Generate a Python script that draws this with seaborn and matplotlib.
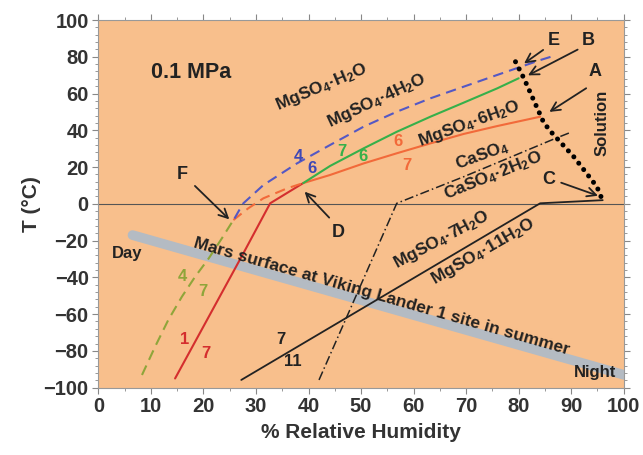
import seaborn as sns
import matplotlib.pyplot as plt
from matplotlib.ticker import MultipleLocator

# phase boundaries (x = % RH, y = T in C)
band_x = [6.5, 100]
band_y = [-17, -93]

red_x = [14.6, 27.6, 32.7, 39.0]
red_y = [-95, -26.9, 0.3, 11.3]

orange_x = [39.0, 44.1, 50.5, 56.8, 63.2, 69.5, 75.9, 84.1]
orange_y = [11.3, 15.7, 22.0, 27.5, 32.9, 38.0, 42.3, 47.4]

orange_dash_x = [25.7, 28.5, 31.4, 35.9, 39.0]
orange_dash_y = [-8.8, -2.5, 3.0, 8.4, 11.3]

green_x = [39.0, 44.1, 50.5, 56.8, 63.2, 69.5, 75.9, 80.0]
green_y = [11.3, 20.6, 30.2, 39.2, 47.4, 55.0, 62.8, 68.3]

blue_x = [25.9, 26.8, 27.6, 31.4, 37.8, 44.1, 50.5, 56.8, 63.2, 69.5, 75.9, 84.1, 86.7]
blue_y = [-8.0, -3.5, 0.3, 10.2, 22.0, 32.0, 42.0, 50.1, 57.4, 63.7, 70.1, 78.2, 80.5]

olive_x = [8.3, 10.8, 13.3, 15.9, 18.4, 21.0, 23.5, 25.7]
olive_y = [-93.1, -77.7, -63.2, -50.5, -39.7, -29.7, -18.8, -8.8]

black_x = [27.2, 84.1, 96.0]
black_y = [-95.8, 0.3, 2.0]

gyp_x = [42.0, 56.8, 69.5, 87.0, 90.0]
gyp_y = [-95.8, 0.3, 14.7, 35.6, 39.0]

sol_x = [79.4, 81.0, 84.8, 86.4, 90.5, 94.9, 96.2]
sol_y = [77.3, 68.3, 44.0, 38.4, 25.6, 9.3, 0.3]

sns.set_style("ticks")
plt.rcParams['font.family'] = ['Liberation Sans', 'DejaVu Sans']
plt.rcParams['font.weight'] = 'bold'
plt.rcParams['mathtext.fontset'] = 'custom'
plt.rcParams['mathtext.rm'] = 'Liberation Sans:bold'
plt.rcParams['mathtext.it'] = 'Liberation Sans:bold'
plt.rcParams['mathtext.bf'] = 'Liberation Sans:bold'
plt.rcParams['mathtext.default'] = 'rm'

fig = plt.figure(figsize=(6.43, 4.55), dpi=100)
ax = fig.add_axes([0.153, 0.148, 0.817, 0.808])
ax.set_facecolor('#F8BF8C')

blue = '#5458C4'
green = '#36B04A'
orange = '#F26A3A'
red = '#D42E2E'
olive = '#8FA53A'
dark = '#222222'

ax.axhline(0, color='#555555', lw=0.8, zorder=1)
sns.lineplot(x=band_x, y=band_y, color='#B4BBC3', lw=7, solid_capstyle='round', ax=ax, zorder=2)
sns.lineplot(x=red_x, y=red_y, color=red, lw=1.5, ax=ax, estimator=None, sort=False)
sns.lineplot(x=orange_x, y=orange_y, color=orange, lw=1.5, ax=ax, estimator=None)
sns.lineplot(x=orange_dash_x, y=orange_dash_y, color=orange, lw=1.5, ls=(0, (5, 3)), ax=ax, estimator=None)
sns.lineplot(x=green_x, y=green_y, color=green, lw=1.5, ax=ax, estimator=None)
sns.lineplot(x=blue_x, y=blue_y, color=blue, lw=1.5, ls=(0, (5, 3)), ax=ax, estimator=None)
sns.lineplot(x=olive_x, y=olive_y, color=olive, lw=1.5, ls=(0, (5, 3)), ax=ax, estimator=None)
sns.lineplot(x=black_x, y=black_y, color=dark, lw=1.3, ax=ax, estimator=None)
sns.lineplot(x=gyp_x, y=gyp_y, color=dark, lw=1.1, ls=(0, (6, 2, 1, 2)), ax=ax, estimator=None)
sns.lineplot(x=sol_x, y=sol_y, color='black', lw=3.6, ls=(0, (0.01, 1.6)),
             dash_capstyle='round', ax=ax, estimator=None, sort=False)

ax.set_xlim(0, 100)
ax.set_ylim(-100, 100)
ax.xaxis.set_major_locator(MultipleLocator(10))
ax.xaxis.set_minor_locator(MultipleLocator(5))
ax.yaxis.set_major_locator(MultipleLocator(20))
ax.yaxis.set_minor_locator(MultipleLocator(4))
ax.tick_params(which='both', direction='out', top=True, right=True, color='#888888',
               labelsize=14.5, pad=3)
ax.tick_params(which='major', length=4)
ax.tick_params(which='minor', length=2.5)
for s in ax.spines.values():
    s.set_color('#999999')
    s.set_linewidth(0.8)
for lab in ax.get_xticklabels() + ax.get_yticklabels():
    lab.set_fontweight('bold')
    lab.set_color('#333333')

ax.set_xlabel('% Relative Humidity', fontsize=15, fontweight='bold', color='#333333', labelpad=5)
ax.set_ylabel('T (°C)', fontsize=15, fontweight='bold', color='#333333', labelpad=2)

txt = dict(color='#222222', fontweight='bold', ha='center', va='center', rotation_mode='anchor')
ax.text(17.6, 71.3, '0.1 MPa', fontsize=15.5, **txt)
ax.text(42.4, 63.3, r'MgSO$_4$·H$_2$O', fontsize=12.5, rotation=23, **txt)
ax.text(53.0, 56.0, r'MgSO$_4$·4H$_2$O', fontsize=12.5, rotation=25, **txt)
ax.text(70.6, 43.8, r'MgSO$_4$·6H$_2$O', fontsize=12.5, rotation=20, **txt)
ax.text(73.0, 26.5, r'CaSO$_4$', fontsize=12.5, rotation=20, **txt)
ax.text(75.2, 15.2, r'CaSO$_4$·2H$_2$O', fontsize=12.5, rotation=22, **txt)
ax.text(65.4, -19.3, r'MgSO$_4$·7H$_2$O', fontsize=12.5, rotation=28, **txt)
ax.text(73.3, -26.1, r'MgSO$_4$·11H$_2$O', fontsize=12.5, rotation=30, **txt)
ax.text(54.0, -50.2, 'Mars surface at Viking Lander 1 site in summer', fontsize=12.5,
        rotation=-16, **txt)
ax.text(5.5, -27.0, 'Day', fontsize=12, **txt)
ax.text(94.5, -92.0, 'Night', fontsize=12, **txt)
ax.text(95.9, 43.8, 'Solution', fontsize=12, rotation=90, **txt)

# small numbers along the boundaries
nums = [(38.1, 25.6, '4', '#3F48B5'), (40.6, 19.3, '6', '#3F48B5'),
        (46.4, 28.4, '7', green), (50.4, 25.6, '6', green),
        (57.1, 33.8, '6', orange), (58.7, 21.1, '7', orange),
        (15.9, -39.5, '4', olive), (19.9, -47.7, '7', olive),
        (16.4, -74.0, '1', red), (20.5, -81.3, '7', red),
        (34.8, -74.0, '7', '#222222'), (37.0, -85.8, '11', '#222222')]
for x, y, s, c in nums:
    ax.text(x, y, s, fontsize=12, color=c, fontweight='bold', ha='center', va='center')

# point letters with arrows
arrows = [('E', (86.7, 89.0), (85.1, 84.6), (80.6, 75.5)),
          ('B', (93.3, 88.7), (91.7, 84.6), (81.3, 69.2)),
          ('A', (94.6, 71.9), (93.3, 63.7), (85.4, 49.2)),
          ('C', (85.7, 13.0), (87.6, 12.0), (95.6, 3.9)),
          ('F', (15.9, 15.9), (18.0, 10.8), (25.3, -9.5)),
          ('D', (45.7, -15.5), (44.3, -8.6), (38.9, 7.7))]
for s, tpos, tail, tip in arrows:
    ax.text(tpos[0], tpos[1], s, fontsize=13, color='#222222', fontweight='bold',
            ha='center', va='center')
    ax.annotate('', xy=tip, xytext=tail,
                arrowprops=dict(arrowstyle='->', color='#222222', lw=1.3, mutation_scale=16))

plt.savefig('out.png', dpi=100)
